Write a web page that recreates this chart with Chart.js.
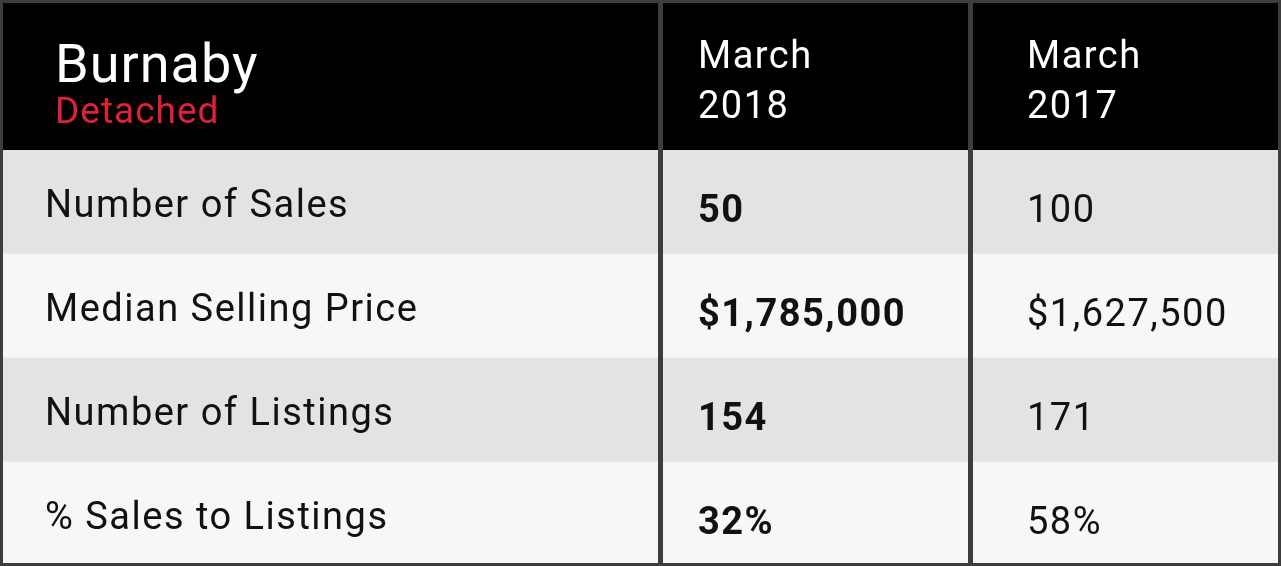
<!DOCTYPE html>
<html><head><meta charset="utf-8">
<script src="https://cdn.jsdelivr.net/npm/chart.js@4/dist/chart.umd.min.js"></script>
<style>html,body{margin:0;padding:0;background:#fff}#wrap{width:1281px;height:566px}</style>
</head><body><div id="wrap"><canvas id="myChart"></canvas></div>
<script>
// table content
var title = "Burnaby";
var subtitle = "Detached";
var columns = [["March", "2018"], ["March", "2017"]];
var rows = ["Number of Sales", "Median Selling Price", "Number of Listings", "% Sales to Listings"];
var values2018 = ["50", "$1,785,000", "154", "32%"];
var values2017 = ["100", "$1,627,500", "171", "58%"];

// column edges along the x scale
var edges = [0, 660, 970, 1281];
var rowColors = ["#e3e3e3", "#f7f7f7", "#e3e3e3", "#f7f7f7"];
var line = "#3d3d3d";

var datasets = [];
for (var c = 0; c < 3; c++) {
    datasets.push({
        data: rows.map(function(){ return [edges[c], edges[c+1]]; }),
        backgroundColor: rowColors,
        borderWidth: 0,
        barPercentage: 1,
        categoryPercentage: 1,
        grouped: false
    });
}

var tablePlugin = {
    id: 'table',
    afterDatasetsDraw: function(chart){
        var ctx = chart.ctx, x = chart.scales.x, y = chart.scales.y, a = chart.chartArea;
        ctx.save();
        // header
        ctx.fillStyle = "#000";
        ctx.fillRect(0, 0, chart.width, a.top);
        ctx.fillStyle = "#fff";
        ctx.textBaseline = "alphabetic";
        ctx.letterSpacing = "1px";
        ctx.font = "54px Roboto";
        ctx.fillText(title, x.getPixelForValue(55), 82);
        ctx.fillStyle = "#e0203a";
        ctx.font = "37px Roboto";
        ctx.fillText(subtitle, x.getPixelForValue(55), 123);
        ctx.fillStyle = "#fff";
        ctx.letterSpacing = "1.5px";
        ctx.font = "38px Roboto";
        var colX = [698, 1027];
        columns.forEach(function(col, i){
            ctx.fillText(col[0], x.getPixelForValue(colX[i]), 68);
            ctx.fillText(col[1], x.getPixelForValue(colX[i]), 118);
        });
        // body text
        ctx.fillStyle = "#111";
        ctx.textBaseline = "middle";
        rows.forEach(function(r, i){
            var py = y.getPixelForValue(i) + 5;
            ctx.font = "38px Roboto";
            ctx.fillText(r, x.getPixelForValue(45), py);
            ctx.font = "bold 38px Roboto";
            ctx.fillText(values2018[i], x.getPixelForValue(698), py + 5);
            ctx.font = "38px Roboto";
            ctx.fillText(values2017[i], x.getPixelForValue(1027), py + 5);
        });
        ctx.letterSpacing = "0px";
        // borders
        ctx.fillStyle = line;
        [660, 970].forEach(function(e){
            ctx.fillRect(x.getPixelForValue(e) - 2, 0, 5, chart.height);
        });
        ctx.lineWidth = 4;
        ctx.strokeStyle = line;
        ctx.strokeRect(1, 1, chart.width - 2, chart.height - 2);
        ctx.restore();
    }
};

var ctx = document.getElementById('myChart').getContext('2d');
var myChart = new Chart(ctx, {
    type: 'bar',
    data: { labels: rows, datasets: datasets },
    options: {
        indexAxis: 'y',
        responsive: true,
        maintainAspectRatio: false,
        animation: false,
        layout: { padding: { top: 150, left: 0, right: 0, bottom: 0 } },
        plugins: { legend: { display: false }, tooltip: { enabled: false } },
        scales: {
            x: { type: 'linear', min: 0, max: 1281, display: false },
            y: { display: false, offset: true }
        }
    },
    plugins: [tablePlugin]
});
</script>
</body></html>
